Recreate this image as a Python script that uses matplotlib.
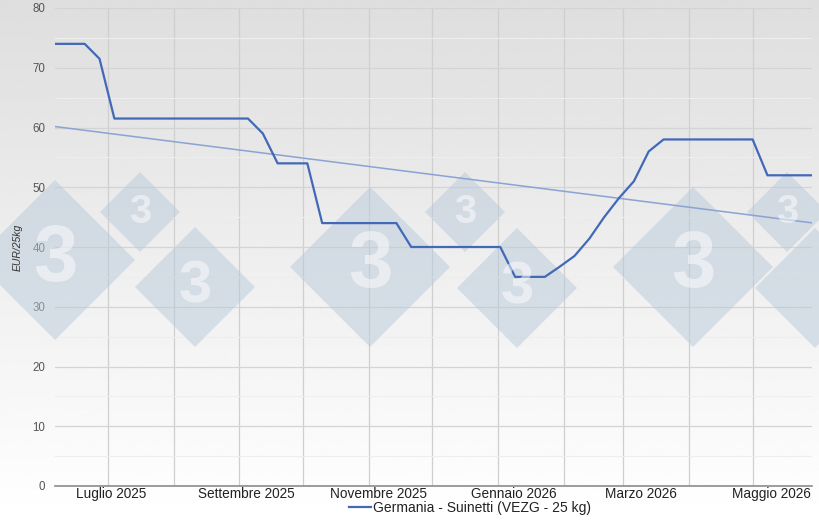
import numpy as np
import pandas as pd
import matplotlib
matplotlib.use("Agg")
from matplotlib import pyplot as plt
from matplotlib.patches import Polygon

plt.rcParams['font.family'] = ['Liberation Sans', 'DejaVu Sans']

# prezzi settimanali suinetti VEZG (EUR/25kg)
start_date = pd.Timestamp("2025-06-06")
prices = [74, 74, 74, 71.5, 61.5, 61.5, 61.5, 61.5, 61.5, 61.5,
          61.5, 61.5, 61.5, 61.5, 59, 54, 54, 54, 44, 44,
          44, 44, 44, 44, 40, 40, 40, 40, 40, 40,
          40, 35, 35, 35, 36.7, 38.5, 41.4, 45, 48.2, 51,
          56, 58, 58, 58, 58, 58, 58, 58, 52, 52,
          52, 52]
month_labels = ["Luglio 2025", "Settembre 2025", "Novembre 2025",
                "Gennaio 2026", "Marzo 2026", "Maggio 2026"]
label_pos = [3.8, 12.9, 21.8, 30.9, 39.5, 48.3]
series_name = "Germania - Suinetti (VEZG - 25 kg)"

weeks = np.arange(len(prices))
trend = np.polyval(np.polyfit(weeks, prices, 1), weeks)

# linee verticali all'inizio di ogni mese
month_starts = pd.date_range("2025-07-01", "2026-05-01", freq="MS")
grid_x = [(d - start_date).days / 7 for d in month_starts]

W, H = 820, 520
fig = plt.figure(figsize=(W / 100, H / 100), dpi=100)

# sfondo sfumato
bg = fig.add_axes([0, 0, 1, 1], zorder=-1)
grad = np.linspace(0.87, 1.0, 256).reshape(-1, 1)
bg.imshow(grad, aspect="auto", cmap="gray", vmin=0, vmax=1, extent=[0, 1, 0, 1])
bg.axis("off")

ax = fig.add_axes([55 / W, 1 - 486 / H, (812 - 55) / W, (486 - 8) / H])
ax.set_facecolor("none")

ax.plot(weeks, prices, color="#4169b8", lw=1.6, zorder=4, label=series_name)
ax.plot(weeks, trend, color="#8aa3d3", lw=1.1, zorder=3)

ax.set_xlim(0, len(prices) - 1)
ax.set_ylim(0, 80)
ax.set_yticks(range(0, 81, 10))
ax.set_yticks(range(5, 80, 10), minor=True)
ax.set_xticks(label_pos)
ax.set_xticklabels(month_labels)

for gx in grid_x:
    ax.axvline(gx, color="#cfcfcf", lw=0.9, zorder=1)
ax.grid(axis="y", which="major", color="#d4d4d4", lw=0.9, zorder=1)
ax.grid(axis="y", which="minor", color="#eeeeee", lw=0.8, zorder=1)

for s in ["top", "right", "left"]:
    ax.spines[s].set_visible(False)
ax.spines["bottom"].set_color("#8c8c8c")
ax.spines["bottom"].set_linewidth(1.2)
ax.tick_params(axis="both", which="both", length=0)
ax.tick_params(axis="x", labelsize=9.8, labelcolor="#222222", pad=1)
ax.tick_params(axis="y", labelsize=8.3, labelcolor="#555555", pad=7)

fig.text(18 / W, 1 - 247 / H, "EUR/25kg", rotation=90, style="italic",
         fontsize=7.5, color="#333333", ha="center", va="center")

# filigrana: rombi con il "3"
marks = [(55, 260, 80), (140, 212, 40), (195, 287, 60),
         (370, 267, 80), (465, 212, 40), (517, 288, 60),
         (693, 267, 80), (787, 212, 40), (815, 288, 60)]
for cx, cy, r in marks:
    pts = [(cx - r, cy), (cx, cy - r), (cx + r, cy), (cx, cy + r)]
    pts = [(px / W, 1 - py / H) for px, py in pts]
    ax.add_patch(Polygon(pts, closed=True, transform=fig.transFigure,
                         facecolor="#b9c9da", edgecolor="none", alpha=0.5,
                         zorder=2, clip_on=False))
    if cx + r * 0.3 < W:
        fig.text(cx / W, 1 - cy / H, "3", fontsize=r * 0.72, fontweight="bold",
                 color="white", alpha=0.5, ha="center", va="center", zorder=2.5)

fig.legend(loc="center", bbox_to_anchor=(470 / W, 1 - 508 / H), frameon=False,
           fontsize=10, handlelength=1.6, handletextpad=0.1,
           labelcolor="#222222")

fig.savefig("out.png", dpi=100)
